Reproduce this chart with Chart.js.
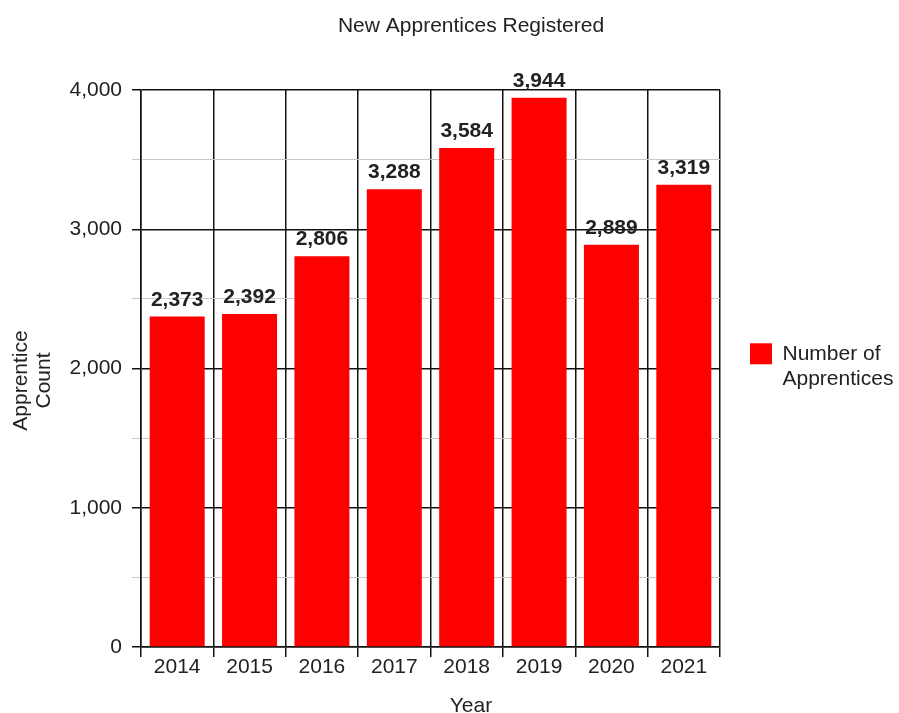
<!DOCTYPE html>
<html>
<head>
<meta charset="utf-8">
<script src="https://cdn.jsdelivr.net/npm/chart.js@4"></script>
<style>
  html, body { margin: 0; padding: 0; background: #fff; }
  #wrap { width: 899px; height: 713px; }
</style>
</head>
<body>
<div id="wrap"><canvas id="c" width="899" height="713"></canvas></div>
<script>
const years = ['2014', '2015', '2016', '2017', '2018', '2019', '2020', '2021'];
const apprentices = [2373, 2392, 2806, 3288, 3584, 3944, 2889, 3319];
const yMin = 0;
const yMax = 4000;
const yStep = 500;
const yLabelStep = 1000;
const chartTitle = 'New Apprentices Registered';
const xTitle = 'Year';
const yTitleLines = ['Apprentice', 'Count'];
const seriesName = 'Number of Apprentices';
const legendLines = ['Number of', 'Apprentices'];

const FONT = '"Liberation Sans", Arial, sans-serif';
const TEXT = '#222';

const fmt = v => v.toLocaleString('en-US');

const labelsPlugin = {
  id: 'barLabels',
  afterDatasetsDraw(chart) {
    const ctx = chart.ctx;
    const meta = chart.getDatasetMeta(0);
    ctx.save();
    ctx.font = 'bold 21px ' + FONT;
    ctx.fillStyle = TEXT;
    ctx.textAlign = 'center';
    ctx.textBaseline = 'alphabetic';
    meta.data.forEach((bar, i) => {
      ctx.fillText(fmt(chart.data.datasets[0].data[i]), bar.x, bar.y - 11);
    });
    ctx.restore();
  }
};

const titlesPlugin = {
  id: 'titles',
  afterLayout(chart) {
    if (chart.legend) {
      chart.legend.bottom -= 66;
    }
  },
  afterDraw(chart) {
    const ctx = chart.ctx;
    const area = chart.chartArea;
    ctx.save();
    ctx.font = '21px ' + FONT;
    ctx.fillStyle = TEXT;
    ctx.textAlign = 'center';
    ctx.textBaseline = 'alphabetic';
    ctx.fillText(chartTitle, 471, 32);
    ctx.fillText(xTitle, 471, 712);
    ctx.translate(0, (area.top + area.bottom) / 2 + 12);
    ctx.rotate(-Math.PI / 2);
    ctx.fillText(yTitleLines[0], 0, 27);
    ctx.fillText(yTitleLines[1], 0, 50);
    ctx.restore();
  }
};

new Chart(document.getElementById('c'), {
  type: 'bar',
  data: {
    labels: years,
    datasets: [{
      label: seriesName,
      data: apprentices,
      backgroundColor: '#f00',
      borderWidth: 0,
      barPercentage: 0.76,
      categoryPercentage: 1.0
    }]
  },
  options: {
    responsive: false,
    animation: false,
    layout: { padding: { top: 90, left: 0, right: 0, bottom: 0 } },
    plugins: {
      title: { display: false },
      tooltip: { enabled: false },
      legend: {
        position: 'right',
        maxWidth: 179,
        labels: {
          boxWidth: 22,
          boxHeight: 21,
          padding: 30,
          color: TEXT,
          font: { family: FONT, size: 21, lineHeight: 1.2 },
          generateLabels(chart) {
            const items = Chart.defaults.plugins.legend.labels.generateLabels(chart);
            items.forEach(it => { it.text = legendLines; it.lineWidth = 0; });
            return items;
          }
        }
      }
    },
    scales: {
      x: {
        afterFit(scale) { scale.height = 66; },
        grid: {
          offset: true,
          color: '#111',
          lineWidth: 1.5,
          tickLength: 10,
          tickColor: '#111'
        },
        border: { color: '#111', width: 1.5 },
        ticks: {
          color: TEXT,
          padding: 0,
          font: { family: FONT, size: 21, lineHeight: 1.0 },
          maxRotation: 0,
          autoSkip: false
        }
      },
      y: {
        min: yMin,
        max: yMax,
        afterFit(scale) { scale.width = 141; },
        grid: {
          color: c => (c.tick && c.tick.value % yLabelStep === 0) ? '#111' : '#c8c8c8',
          lineWidth: c => (c.tick && c.tick.value % yLabelStep === 0) ? 1.5 : 1,
          tickLength: 9,
          tickColor: c => (c.tick && c.tick.value % yLabelStep === 0) ? '#111' : '#c8c8c8'
        },
        border: { color: '#111', width: 1.5 },
        ticks: {
          stepSize: yStep,
          autoSkip: false,
          color: TEXT,
          padding: 10,
          font: { family: FONT, size: 21 },
          callback: v => (v % yLabelStep === 0) ? fmt(v) : ''
        }
      }
    }
  },
  plugins: [labelsPlugin, titlesPlugin]
});
</script>
</body>
</html>
